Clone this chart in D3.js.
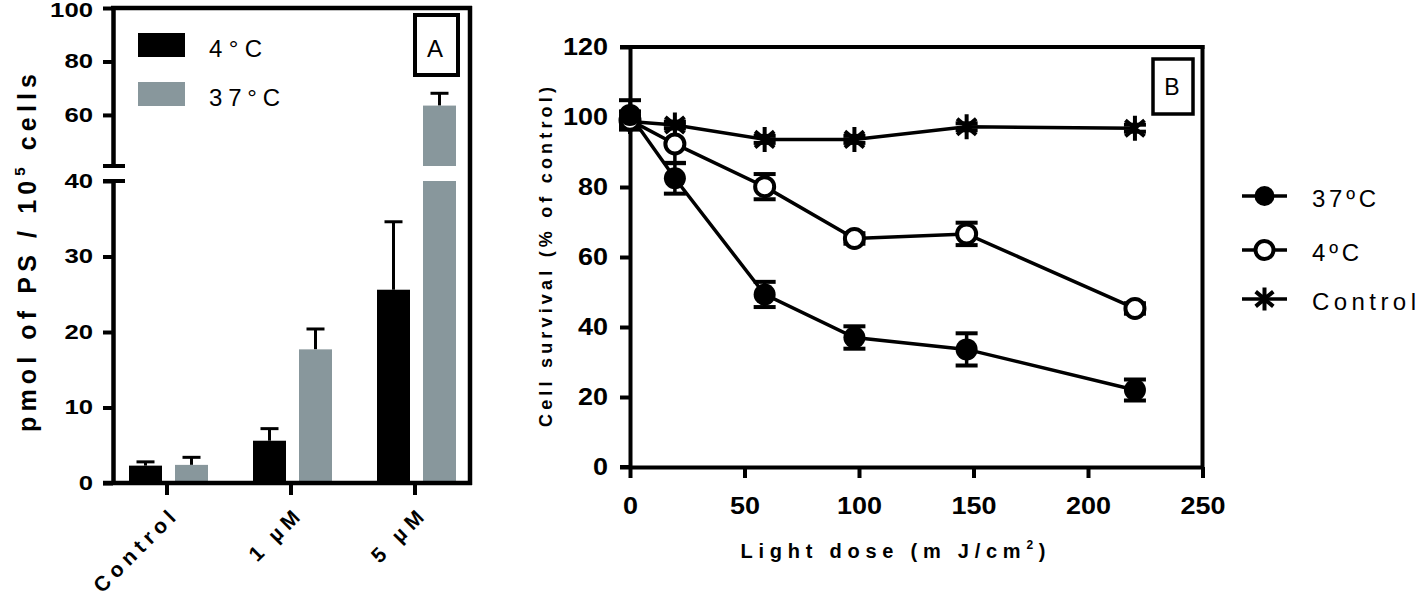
<!DOCTYPE html>
<html>
<head>
<meta charset="utf-8">
<script src="https://cdn.jsdelivr.net/npm/d3@7"></script>
<style>
  html, body { margin: 0; padding: 0; background: #fff; }
  svg { display: block; font-family: "Liberation Sans", Arial, sans-serif; }
</style>
</head>
<body>
<script>
// ---------------- DATA ----------------
// Panel A
const catsA = ["Control", "1 µM", "5 µM"];
const seriesA = ["4°C", "37°C"];
const valsA4 = [2.3, 5.6, 25.6];
const errA4 = [0.5, 1.6, 9.0];
const valsA37 = [2.4, 17.7, 63.5];
const errA37 = [1.0, 2.7, 4.6];
const ticksAlo = [0, 10, 20, 30, 40];
const ticksAhi = [60, 80, 100];

// Panel B
const doses = [0, 19.6, 58.8, 98, 147, 220.5];
const surv37 = [100.6, 82.5, 49.3, 37.0, 33.6, 22.0];
const err37 = [4.2, 4.4, 3.6, 3.2, 4.6, 3.0];
const surv4 = [99.1, 92.3, 80.1, 65.3, 66.6, 45.3];
const err4 = [2.5, 5.5, 3.6, 1.5, 3.2, 1.5];
const survCtrl = [98.7, 97.7, 93.6, 93.6, 97.2, 96.8];
const errCtrl = [1.0, 1.0, 1.0, 1.0, 1.0, 1.0];
const ticksBy = [0, 20, 40, 60, 80, 100, 120];
const ticksBx = [0, 50, 100, 150, 200, 250];
const seriesB = ["37ºC", "4ºC", "Control"];

const GRAY = "#88979c";

const svg = d3.select("body").append("svg").attr("width", 1418).attr("height", 599);

// ---------------- PANEL A ----------------
const gA = svg.append("g");
const yAlo = d3.scaleLinear().domain([0, 40]).range([483, 181]);
const yAhi = d3.scaleLinear().domain([40.9, 100]).range([166, 8]);
const yA = v => (v <= 40 ? yAlo(v) : yAhi(v));
const xA = d3.scaleBand().domain(catsA).range([105, 477]);
const xSub = d3.scaleBand().domain(seriesA).range([-38, 41]).paddingInner(0.2826);
const axisX0 = 113, axisRight = 470, baseY = yAlo(0), topY = yAhi(100);

function styleAxis(g, fs, lenPer) {
  g.select(".domain").attr("stroke", "#000").attr("stroke-width", 4.5);
  g.selectAll(".tick line").attr("stroke", "#000").attr("stroke-width", 4);
  g.selectAll(".tick text")
    .attr("fill", "#000")
    .style("font-size", fs + "px").style("font-weight", "bold")
    .attr("textLength", function() { return this.textContent.length * lenPer; })
    .attr("lengthAdjust", "spacingAndGlyphs");
}

const gAhi = gA.append("g").attr("transform", `translate(${axisX0},0)`)
  .call(d3.axisLeft(yAhi).tickValues(ticksAhi).tickSize(10).tickSizeOuter(0).tickPadding(10));
styleAxis(gAhi, 20, 14.3);
gAhi.selectAll(".tick text").filter(d => d === 100).attr("dy", "0.42em");
const gAlo = gA.append("g").attr("transform", `translate(${axisX0},0)`)
  .call(d3.axisLeft(yAlo).tickValues(ticksAlo).tickSize(10).tickSizeOuter(0).tickPadding(10));
styleAxis(gAlo, 20, 14.3);

// break marks
[yAhi(yAhi.domain()[0]), yAlo(40)].forEach(y => {
  gA.append("line").attr("x1", 103).attr("x2", 125).attr("y1", y).attr("y2", y)
    .attr("stroke", "#000").attr("stroke-width", 4);
});

// frame top & right
gA.append("line").attr("x1", axisX0 - 2).attr("x2", axisRight + 2).attr("y1", topY).attr("y2", topY)
  .attr("stroke", "#000").attr("stroke-width", 4.5);
gA.append("line").attr("x1", axisRight).attr("x2", axisRight).attr("y1", topY - 2).attr("y2", baseY + 2)
  .attr("stroke", "#000").attr("stroke-width", 4.5);

// bars
const barData = [];
catsA.forEach((c, i) => {
  barData.push({ cat: c, s: seriesA[0], v: valsA4[i], e: errA4[i], color: "#000" });
  barData.push({ cat: c, s: seriesA[1], v: valsA37[i], e: errA37[i], color: GRAY });
});
barData.forEach(d => {
  const cx = xA(d.cat) + xA.bandwidth() / 2;
  const x0 = cx + xSub(d.s), w = xSub.bandwidth(), mid = x0 + w / 2;
  gA.append("line").attr("x1", mid).attr("x2", mid).attr("y1", yA(d.v)).attr("y2", yA(d.v + d.e))
    .attr("stroke", "#000").attr("stroke-width", 3);
  gA.append("line").attr("x1", mid - 9).attr("x2", mid + 9).attr("y1", yA(d.v + d.e)).attr("y2", yA(d.v + d.e))
    .attr("stroke", "#000").attr("stroke-width", 3);
  if (d.v <= 40) {
    gA.append("rect").attr("x", x0).attr("width", w).attr("y", yAlo(d.v)).attr("height", baseY - yAlo(d.v)).attr("fill", d.color);
  } else {
    gA.append("rect").attr("x", x0).attr("width", w).attr("y", yAlo(40)).attr("height", baseY - yAlo(40)).attr("fill", d.color);
    const yb = yAhi(yAhi.domain()[0]);
    gA.append("rect").attr("x", x0).attr("width", w).attr("y", yAhi(d.v)).attr("height", yb - yAhi(d.v)).attr("fill", d.color);
  }
});

// x axis
gA.append("line").attr("x1", 103).attr("x2", axisRight + 2).attr("y1", baseY).attr("y2", baseY)
  .attr("stroke", "#000").attr("stroke-width", 4.5);
const gAx = gA.append("g").attr("transform", `translate(0,${baseY})`)
  .call(d3.axisBottom(xA).tickSize(12).tickSizeOuter(0));
gAx.select(".domain").remove();
gAx.selectAll(".tick line").attr("stroke", "#000").attr("stroke-width", 4);
gAx.selectAll(".tick text").remove();
const xLabLen = { "Control": 106, "1 µM": 62, "5 µM": 64 };
catsA.forEach(c => {
  const cx = xA(c) + xA.bandwidth() / 2;
  gA.append("text").attr("transform", `translate(${cx + 10},${baseY + 36}) rotate(-45)`)
    .attr("text-anchor", "end").style("font-size", "21px").style("font-weight", "bold")
    .attr("textLength", xLabLen[c]).attr("lengthAdjust", "spacing").text(c);
});

// y label
const yLabA = gA.append("text").attr("transform", "translate(36,253) rotate(-90)")
  .attr("text-anchor", "middle").style("font-size", "25px").style("font-weight", "bold")
  .attr("textLength", 358).attr("lengthAdjust", "spacing");
yLabA.append("tspan").text("pmol of PS / 10");
yLabA.append("tspan").attr("dy", -11).style("font-size", "15px").text("5");
yLabA.append("tspan").attr("dy", 11).text(" cells");

// legend A
const legA = [{ s: seriesA[0], color: "#000", len: 53 }, { s: seriesA[1], color: GRAY, len: 71 }];
legA.forEach((d, i) => {
  const y = 33 + i * 49;
  gA.append("rect").attr("x", 138).attr("y", y).attr("width", 47).attr("height", 24).attr("fill", d.color);
  gA.append("text").attr("x", 209).attr("y", y + 24).style("font-size", "24px")
    .attr("textLength", d.len).attr("lengthAdjust", "spacing").text(d.s);
});

// box A
gA.append("rect").attr("x", 415).attr("y", 15).attr("width", 43).attr("height", 60)
  .attr("fill", "none").attr("stroke", "#000").attr("stroke-width", 4);
gA.append("text").attr("x", 435).attr("y", 57).attr("text-anchor", "middle").style("font-size", "24px").text("A");

// ---------------- PANEL B ----------------
const gB = svg.append("g");
const xB = d3.scaleLinear().domain([0, 250]).range([630, 1202.5]);
const yB = d3.scaleLinear().domain([0, 120]).range([467, 47]);

const gBy = gB.append("g").attr("transform", `translate(${xB(0)},0)`)
  .call(d3.axisLeft(yB).tickValues(ticksBy).tickSize(10).tickSizeOuter(0).tickPadding(12));
styleAxis(gBy, 23, 15);
gBy.select(".domain").attr("stroke-width", 4);
const gBx = gB.append("g").attr("transform", `translate(0,${yB(0)})`)
  .call(d3.axisBottom(xB).tickValues(ticksBx).tickSize(11).tickSizeOuter(0).tickPadding(20));
styleAxis(gBx, 23, 15);
gBx.select(".domain").attr("stroke-width", 4);
gB.append("line").attr("x1", 620).attr("x2", xB(0)).attr("y1", yB(0)).attr("y2", yB(0)).attr("stroke", "#000").attr("stroke-width", 4);
gB.append("line").attr("x1", 620).attr("x2", xB(250) + 2).attr("y1", yB(120)).attr("y2", yB(120)).attr("stroke", "#000").attr("stroke-width", 4);
gB.append("line").attr("x1", xB(250)).attr("x2", xB(250)).attr("y1", yB(120) - 2).attr("y2", yB(0) + 2).attr("stroke", "#000").attr("stroke-width", 4);

// axis titles
gB.append("text").attr("transform", "translate(552,257) rotate(-90)").attr("text-anchor", "middle")
  .style("font-size", "18px").style("font-weight", "bold")
  .attr("textLength", 340).attr("lengthAdjust", "spacing").text("Cell survival (% of control)");
const xLabB = gB.append("text").attr("x", 893).attr("y", 558).attr("text-anchor", "middle")
  .style("font-size", "20px").style("font-weight", "bold")
  .attr("textLength", 305).attr("lengthAdjust", "spacing");
xLabB.append("tspan").text("Light dose (m J/cm");
xLabB.append("tspan").attr("dy", -9).style("font-size", "12px").text("2");
xLabB.append("tspan").attr("dy", 9).text(")");

// series
const seriesData = [
  { name: seriesB[2], y: survCtrl, e: errCtrl, marker: "star" },
  { name: seriesB[1], y: surv4, e: err4, marker: "open" },
  { name: seriesB[0], y: surv37, e: err37, marker: "filled" }
];
const line = d3.line().x(d => xB(d[0])).y(d => yB(d[1]));

function starPath(cx, cy, r) {
  const a = 40 * Math.PI / 180, dx = r * Math.cos(a), dy = r * Math.sin(a);
  return `M${cx},${cy - r}V${cy + r}M${cx - dx},${cy - dy}L${cx + dx},${cy + dy}M${cx - dx},${cy + dy}L${cx + dx},${cy - dy}`;
}
function drawMarker(g, type, cx, cy, small) {
  if (type === "filled") {
    g.append("circle").attr("cx", cx).attr("cy", cy).attr("r", small ? 10 : 11).attr("fill", "#000");
  } else if (type === "open") {
    g.append("circle").attr("cx", cx).attr("cy", cy).attr("r", small ? 9 : 9.5)
      .attr("fill", "#fff").attr("stroke", "#000").attr("stroke-width", 4);
  } else {
    g.append("path").attr("d", starPath(cx, cy, small ? 11.5 : 12.5)).attr("stroke", "#000").attr("stroke-width", 4).attr("fill", "none");
  }
}

seriesData.forEach(s => {
  const pts = doses.map((d, i) => [d, s.y[i]]);
  gB.append("path").datum(pts).attr("d", line).attr("fill", "none").attr("stroke", "#000").attr("stroke-width", 3.5);
});
seriesData.forEach(s => {
  doses.forEach((d, i) => {
    const cx = xB(d), y0 = yB(s.y[i] - s.e[i]), y1 = yB(s.y[i] + s.e[i]);
    gB.append("line").attr("x1", cx).attr("x2", cx).attr("y1", y0).attr("y2", y1).attr("stroke", "#000").attr("stroke-width", 3.5);
    [y0, y1].forEach(yy => gB.append("line").attr("x1", cx - 11).attr("x2", cx + 11).attr("y1", yy).attr("y2", yy)
      .attr("stroke", "#000").attr("stroke-width", 4));
  });
});
seriesData.forEach(s => {
  doses.forEach((d, i) => drawMarker(gB, s.marker, xB(d), yB(s.y[i]), false));
});

// box B
gB.append("rect").attr("x", 1153).attr("y", 59).attr("width", 40).attr("height", 55)
  .attr("fill", "#fff").attr("stroke", "#000").attr("stroke-width", 3.5);
gB.append("text").attr("x", 1172).attr("y", 95).attr("text-anchor", "middle").style("font-size", "23px").text("B");

// legend B
const legB = [
  { name: seriesB[0], marker: "filled", y: 196, len: 64 },
  { name: seriesB[1], marker: "open", y: 250, len: 47 },
  { name: seriesB[2], marker: "star", y: 299, len: 104 }
];
legB.forEach(d => {
  gB.append("line").attr("x1", 1242).attr("x2", 1287).attr("y1", d.y).attr("y2", d.y).attr("stroke", "#000").attr("stroke-width", 3.5);
  drawMarker(gB, d.marker, 1264.5, d.y, true);
  gB.append("text").attr("x", 1312).attr("y", d.y + 11).style("font-size", "24px")
    .attr("textLength", d.len).attr("lengthAdjust", "spacing").text(d.name);
});
</script>
</body>
</html>
